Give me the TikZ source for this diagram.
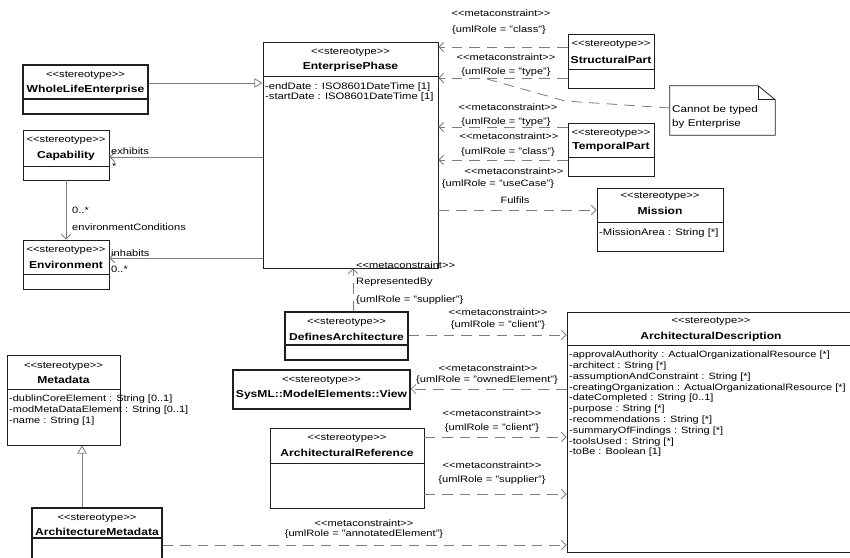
\documentclass[tikz,border=0pt]{standalone}
\usepackage{fontspec}
\setmainfont{Liberation Sans}[FakeStretch=1.2]
\usetikzlibrary{arrows.meta,positioning,calc}
\definecolor{umlgray}{RGB}{125,125,125}
\definecolor{umlink}{RGB}{30,30,30}
\newcommand{\sttag}{<\kern0pt<stereotype>\kern0pt>}
\newcommand{\mctag}{<\kern0pt<metaconstraint>\kern0pt>}
\begin{document}
\begin{tikzpicture}[x=0.03cm,y=-0.03cm,
  classbox/.style={draw=umlink,line width=0.7pt,inner sep=0pt},
  selbox/.style={classbox,line width=1.3pt},
  stereo/.style={font=\fontsize{8}{9}\selectfont,inner sep=0pt},
  cname/.style={font=\fontsize{8.6}{10}\selectfont\bfseries,inner sep=0pt},
  attrs/.style={font=\fontsize{7.8}{9.2}\selectfont,align=left,anchor=north west,inner sep=0pt},
  lbl/.style={font=\fontsize{7.9}{9}\selectfont,inner sep=0pt},
  assoc/.style={draw=umlgray,line width=0.7pt,-{Straight Barb[length=4pt,width=8pt]}},
  mcline/.style={assoc,dash pattern=on 9pt off 6pt},
  genline/.style={draw=umlgray,line width=0.7pt,-{Triangle[open,length=7pt,width=8pt]}}
]
  \useasboundingbox (0,0) rectangle (850,557);
  \clip (0,0) rectangle (850,557);

  % Enterprise side
  % WholeLifeEnterprise
  \node[selbox,minimum width=3.75cm,minimum height=1.47cm] (wle) at (85.5,89.5) {};
  \draw[selbox] (wle.west |- 0,99) -- (wle.east |- 0,99);
  \node[stereo] at (85.5,75) {\sttag};
  \node[cname] at (85.5,90) {WholeLifeEnterprise};

  % Capability
  \node[classbox,minimum width=2.58cm,minimum height=1.5cm] (cap) at (66,155) {};
  \draw[classbox] (cap.west |- 0,166) -- (cap.east |- 0,166);
  \node[stereo] at (66,140) {\sttag};
  \node[cname] at (66,156) {Capability};

  % Environment
  \node[classbox,minimum width=2.58cm,minimum height=1.47cm] (env) at (66,264.5) {};
  \draw[classbox] (env.west |- 0,274) -- (env.east |- 0,274);
  \node[stereo] at (66,250) {\sttag};
  \node[cname] at (66,265) {Environment};

  % EnterprisePhase
  \node[classbox,minimum width=5.25cm,minimum height=6.78cm] (ep) at (350.5,155) {};
  \draw[classbox] (ep.west |- 0,76) -- (ep.east |- 0,76);
  \node[stereo] at (350.5,52) {\sttag};
  \node[cname] at (350.5,67) {EnterprisePhase};
  \node[attrs,font=\fontsize{8}{9.2}\selectfont] at (265,82) {-endDate : ISO8601DateTime [1]\\-startDate : ISO8601DateTime [1]};

  % StructuralPart
  \node[classbox,minimum width=2.58cm,minimum height=1.62cm] (sp) at (611,61) {};
  \draw[classbox] (sp.west |- 0,69) -- (sp.east |- 0,69);
  \node[stereo] at (611,44) {\sttag};
  \node[cname] at (611,60) {StructuralPart};

  % TemporalPart
  \node[classbox,minimum width=2.58cm,minimum height=1.59cm] (tp) at (611,149.5) {};
  \draw[classbox] (tp.west |- 0,157) -- (tp.east |- 0,157);
  \node[stereo] at (611,133) {\sttag};
  \node[cname] at (611,147) {TemporalPart};

  % note
  \node[minimum width=3.15cm,minimum height=1.47cm,inner sep=0pt] (note) at (722.5,110.5) {};
  \draw[classbox] (note.south west) -- (note.north west) -- ([xshift=-0.51cm]note.north east)
    -- ([yshift=-0.42cm]note.north east) -- (note.south east) -- cycle;
  \draw[classbox] ([xshift=-0.51cm]note.north east) -- ([xshift=-0.51cm,yshift=-0.42cm]note.north east)
    -- ([yshift=-0.42cm]note.north east);
  \node[lbl,align=left,anchor=north west,font=\fontsize{8.3}{12}\selectfont] at (672,105) {Cannot be typed\\by Enterprise};

  % Mission
  \node[classbox,minimum width=3.78cm,minimum height=1.89cm] (mis) at (660,219.5) {};
  \draw[classbox] (mis.west |- 0,222) -- (mis.east |- 0,222);
  \node[stereo] at (660,196) {\sttag};
  \node[cname] at (660,211) {Mission};
  \node[lbl,anchor=west,font=\fontsize{8}{9}\selectfont] at (599,233) {-MissionArea : String [*]};

  % Architecture side
  % DefinesArchitecture
  \node[selbox,minimum width=3.69cm,minimum height=1.44cm] (da) at (346.5,336) {};
  \draw[selbox] (da.west |- 0,345) -- (da.east |- 0,345);
  \node[stereo] at (346.5,322) {\sttag};
  \node[cname] at (346.5,337) {DefinesArchitecture};

  % View
  \node[selbox,minimum width=5.31cm,minimum height=1.17cm] (view) at (321.5,389.5) {};
  \node[stereo] at (321.5,380) {\sttag};
  \node[cname] at (321.5,395) {SysML::ModelElements::View};

  % ArchitecturalReference
  \node[classbox,minimum width=4.62cm,minimum height=2.4cm] (ar) at (347,468) {};
  \draw[classbox] (ar.west |- 0,463) -- (ar.east |- 0,463);
  \node[stereo] at (347,438) {\sttag};
  \node[cname] at (347,453) {ArchitecturalReference};

  % ArchitecturalDescription
  \node[classbox,minimum width=8.64cm,minimum height=7.2cm] (ad) at (711,432) {};
  \draw[classbox] (ad.west |- 0,345) -- (ad.east |- 0,345);
  \node[stereo] at (711,321) {\sttag};
  \node[cname] at (711,337) {ArchitecturalDescription};
  \node[attrs] at (569,351) {-approvalAuthority : ActualOrganizationalResource [*]\\
    -architect : String [*]\\
    -assumptionAndConstraint : String [*]\\
    -creatingOrganization : ActualOrganizationalResource [*]\\
    -dateCompleted : String [0..1]\\
    -purpose : String [*]\\
    -recommendations : String [*]\\
    -summaryOfFindings : String [*]\\
    -toolsUsed : String [*]\\
    -toBe : Boolean [1]};

  % Metadata
  \node[classbox,minimum width=3.39cm,minimum height=2.7cm] (md) at (63.5,400) {};
  \draw[classbox] (md.west |- 0,389) -- (md.east |- 0,389);
  \node[stereo] at (63.5,366) {\sttag};
  \node[cname] at (63.5,380) {Metadata};
  \node[attrs] at (9,395) {-dublinCoreElement : String [0..1]\\
    -modMetaDataElement : String [0..1]\\
    -name : String [1]};

  % ArchitectureMetadata
  \node[selbox,minimum width=3.9cm,minimum height=1.56cm] (amd) at (97,534) {};
  \draw[selbox] (amd.west |- 0,538) -- (amd.east |- 0,538);
  \node[stereo] at (97,518) {\sttag};
  \node[cname] at (97,532) {ArchitectureMetadata};

  % connectors
  \draw[genline] (wle.east |- 0,83) -- (ep.west |- 0,83);
  \draw[assoc] (ep.west |- 0,157) -- (cap.east |- 0,157);
  \node[lbl,anchor=west] at (111,151) {exhibits};
  \node[lbl,anchor=west] at (112,166) {*};
  \draw[assoc] (cap.south) -- (env.north);
  \node[lbl,anchor=west] at (72,210) {0..*};
  \node[lbl,anchor=west] at (72,227) {environmentConditions};
  \draw[assoc] (ep.west |- 0,258) -- (env.east |- 0,258);
  \node[lbl,anchor=west] at (111,253) {inhabits};
  \node[lbl,anchor=west] at (111,269) {0..*};

  \draw[mcline] (sp.west |- 0,47) -- (ep.east |- 0,47);
  \node[lbl] at (501,13) {\mctag};
  \node[lbl] at (499,30) {\{umlRole = "class"\}};
  \draw[mcline] (sp.west |- 0,78) -- (ep.east |- 0,78);
  \node[lbl] at (506,57) {\mctag};
  \node[lbl] at (506,72) {\{umlRole = "type"\}};
  \draw[mcline] (tp.west |- 0,127) -- (ep.east |- 0,127);
  \node[lbl] at (508,107) {\mctag};
  \node[lbl] at (506,122) {\{umlRole = "type"\}};
  \draw[mcline] (tp.west |- 0,160) -- (ep.east |- 0,160);
  \node[lbl] at (509,136) {\mctag};
  \node[lbl] at (508,152) {\{umlRole = "class"\}};
  \draw[mcline] (ep.east |- 0,210) -- (mis.west |- 0,210);
  \node[lbl] at (514,171) {\mctag};
  \node[lbl] at (498,184) {\{umlRole = "useCase"\}};
  \node[lbl] at (515,200) {Fulfils};

  \coordinate (nbend) at (565,101);
  \coordinate (ntype) at (480,77);
  \draw[umlgray,line width=0.7pt,dash pattern=on 9pt off 6pt] (note.west |- 0,108) -- (nbend) -- (ntype);

  \draw[mcline] (da.north -| 353,0) -- (ep.south -| 353,0);
  \node[lbl,anchor=west] at (356,265) {\mctag};
  \node[lbl,anchor=west] at (356,282) {RepresentedBy};
  \node[lbl,anchor=west] at (356,300) {\{umlRole = "supplier"\}};

  \draw[mcline] (da.east |- 0,335) -- (ad.west |- 0,335);
  \node[lbl] at (498,312) {\mctag};
  \node[lbl] at (498,325) {\{umlRole = "client"\}};
  \draw[mcline] (ad.west |- 0,389) -- (view.east |- 0,389);
  \node[lbl] at (488,368) {\mctag};
  \node[lbl] at (487,380) {\{umlRole = "ownedElement"\}};
  \draw[mcline] (ar.east |- 0,437) -- (ad.west |- 0,437);
  \node[lbl] at (492,413) {\mctag};
  \node[lbl] at (492,428) {\{umlRole = "client"\}};
  \draw[mcline] (ar.east |- 0,494) -- (ad.west |- 0,494);
  \node[lbl] at (492,465) {\mctag};
  \node[lbl] at (492,480) {\{umlRole = "supplier"\}};
  \draw[mcline] (amd.east |- 0,545) -- (ad.west |- 0,545);
  \node[lbl] at (364,523) {\mctag};
  \node[lbl] at (364,534) {\{umlRole = "annotatedElement"\}};

  \draw[genline] (amd.north -| 82,0) -- (md.south -| 82,0);
\end{tikzpicture}
\end{document}
